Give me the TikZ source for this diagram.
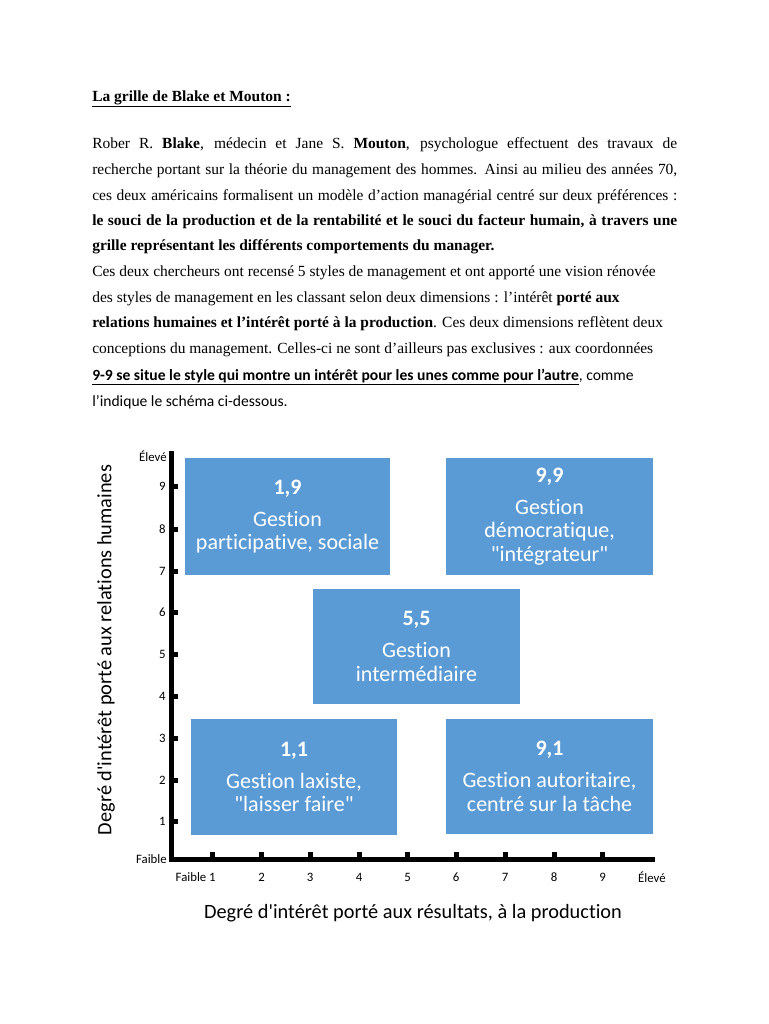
\documentclass[tikz,border=0pt]{standalone}
\usepackage{fontspec}
\setmainfont{Liberation Serif}
\newfontfamily\calfont[Ligatures=NoCommon]{Carlito}
\definecolor{boxblue}{HTML}{5B9BD5}
\begin{document}
\begin{tikzpicture}[x=0.75pt,y=-0.75pt,
  bodyline/.style={anchor=base west,inner sep=0pt,font=\fontsize{11.6}{13}\selectfont},
  calline/.style={anchor=base west,inner sep=0pt,font=\calfont\fontsize{11.7}{13}\selectfont},
  gridbox/.style={fill=boxblue,text=white,inner sep=0pt,align=center,
    font=\calfont\fontsize{16.5}{17.6}\selectfont},
  axislbl/.style={inner sep=0pt,font=\calfont\fontsize{9.6}{11}\selectfont},
  axistitle/.style={inner sep=0pt,font=\calfont\fontsize{15.25}{18}\selectfont},
  axisline/.style={line width=3.75pt,line join=miter,line cap=butt},
  tickmark/.style={fill=black}]
\useasboundingbox (0,0) rectangle (768,1024);
% --- text ---
\node[bodyline] (title) at (92,101) {\underline{\textbf{La grille de Blake et Mouton :}}};
\node[bodyline] (l1) at (92,148) {\makebox[438.75pt][s]{Rober R. \textbf{Blake}, médecin et Jane S. \textbf{Mouton}, psychologue effectuent des travaux de}};
\node[bodyline] (l2) at (92,174) {\makebox[438.75pt][s]{recherche portant sur la théorie du management des hommes. Ainsi au milieu des années 70,}};
\node[bodyline] (l3) at (92,200) {\makebox[438.75pt][s]{ces deux américains formalisent un modèle d’action managérial centré sur deux préférences :}};
\node[bodyline] (l4) at (92,225) {\makebox[438.75pt][s]{\textbf{le souci de la production et de la rentabilité et le souci du facteur humain, à travers une}}};
\node[bodyline] (l5) at (92,250) {\textbf{grille représentant les différents comportements du manager.}};
\node[bodyline] (l6) at (92,276) {Ces deux chercheurs ont recensé 5 styles de management et ont apporté une vision rénovée};
\node[bodyline] (l7) at (92,302) {des styles de management en les classant selon deux dimensions : l’intérêt \textbf{porté aux}};
\node[bodyline] (l8) at (92,327) {\textbf{relations humaines et l’intérêt porté à la production}. Ces deux dimensions reflètent deux};
\node[bodyline] (l9) at (92,353) {conceptions du management. Celles-ci ne sont d’ailleurs pas exclusives : aux coordonnées};
\node[calline] (l10) at (92,380) {\underline{\textbf{9-9 se situe le style qui montre un intérêt pour les unes comme pour l’autre}}, comme};
\node[calline] (l11) at (92,406) {l’indique le schéma ci-dessous.};
% --- boxes ---
\node[gridbox,minimum width=205*0.75pt,minimum height=117*0.75pt] (b19) at (287.5,516.5)
  {\textbf{1,9}\\[6.4pt]Gestion\\participative, sociale};
\node[gridbox,minimum width=207*0.75pt,minimum height=117*0.75pt] (b99) at (549.5,516.5)
  {\textbf{9,9}\\[6.4pt]Gestion\\démocratique,\\"intégrateur"};
\node[gridbox,minimum width=207*0.75pt,minimum height=115*0.75pt] (b55) at (416.5,646.5)
  {\textbf{5,5}\\[6.4pt]Gestion\\intermédiaire};
\node[gridbox,minimum width=206*0.75pt,minimum height=116*0.75pt] (b11) at (294,777)
  {\textbf{1,1}\\[6.4pt]Gestion laxiste,\\"laisser faire"};
\node[gridbox,minimum width=207*0.75pt,minimum height=115*0.75pt] (b91) at (549.5,776.5)
  {\textbf{9,1}\\[6.4pt]Gestion autoritaire,\\centré sur la tâche};
% --- axes ---
\coordinate (ytop) at (171,451);
\coordinate (orig) at (171,859);
\coordinate (xend) at (655,859);
\draw[axisline] (ytop) -- (orig) -- (xend);
\foreach \k/\yy in {1/821.7,2/780,3/738.3,4/696,5/654.3,6/612.7,7/571,8/529.3,9/486.7}{
  \fill[tickmark] (172,\yy-2.5) rectangle (178,\yy+2.5);
  \node[axislbl,anchor=east] (ylab\k) at (166,\yy) {\k};
}
\foreach \k/\xx in {1/212.7,2/261.7,3/310,4/359,5/407.7,6/456,7/505,8/554,9/602.7}{
  \fill[tickmark] (\xx-2.5,852) rectangle (\xx+2.5,858);
}
\foreach \k/\xx in {2/261.7,3/310,4/359,5/407.7,6/456,7/505,8/554,9/602.7}{
  \node[axislbl] (xlab\k) at (\xx,877) {\k};
}
\node[axislbl,anchor=base east] (xlab1) at (216,881) {Faible 1};
\node[axislbl] (xhigh) at (652,877) {Élevé};
\node[axislbl,anchor=east] (yhigh) at (167,456) {Élevé};
\node[axislbl,anchor=east] (ylow) at (167,859) {Faible};
\node[axistitle] (xtitle) at (413,913) {Degré d'intérêt porté aux résultats, à la production};
\node[axistitle,rotate=90] (ytitle) at (106,650) {Degré d'intérêt porté aux relations humaines};
\end{tikzpicture}
\end{document}
